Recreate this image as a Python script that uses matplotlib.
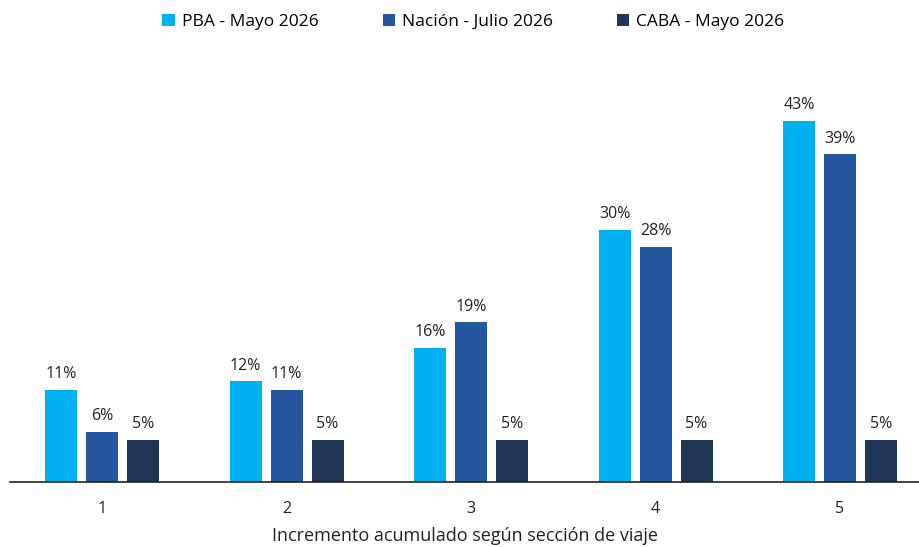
import matplotlib.pyplot as plt
import numpy as np

plt.rcParams['font.family'] = ['Open Sans', 'DejaVu Sans']

secciones = ['1', '2', '3', '4', '5']
series = ['PBA - Mayo 2026', 'Nación - Julio 2026', 'CABA - Mayo 2026']
pba = [11, 12, 16, 30, 43]
nacion = [6, 11, 19, 28, 39]
caba = [5, 5, 5, 5, 5]
colores = ['#00B0F0', '#2457A0', '#1F3656']

fig = plt.figure(figsize=(9.19, 5.47), dpi=100)
ax = fig.add_axes([0.0109, 0.1188, 0.9891, 0.7715])

x = np.arange(len(secciones))
ancho = 0.1734
paso = 0.2222

for i, (vals, nombre, color) in enumerate(zip([pba, nacion, caba], series, colores)):
    pos = x + (i - 1) * paso
    barras = ax.bar(pos, vals, width=ancho, color=color, label=nombre)
    for b, v in zip(barras, vals):
        ax.text(b.get_x() + b.get_width() / 2, v + 0.9, f'{v}%',
                ha='center', va='bottom', fontsize=11.5, color='#222222')

ax.set_xlim(-0.4986, 4.428)
ax.set_ylim(0, 50.2)
ax.set_xticks(x)
ax.set_xticklabels(secciones, fontsize=11.5, color='#222222')
ax.tick_params(axis='x', length=0, pad=14)
ax.set_yticks([])
for lado in ['top', 'right', 'left']:
    ax.spines[lado].set_visible(False)
ax.spines['bottom'].set_color('#222222')
ax.spines['bottom'].set_linewidth(1.2)

ax.set_xlabel('Incremento acumulado según sección de viaje', fontsize=13,
              color='#222222', labelpad=7)

fig.legend(loc='center', bbox_to_anchor=(0.515, 0.96), ncol=3, frameon=False,
           fontsize=12.5, handlelength=0.7, handleheight=0.7, handletextpad=0.4,
           columnspacing=3.7)

fig.savefig('out.png', dpi=100)
